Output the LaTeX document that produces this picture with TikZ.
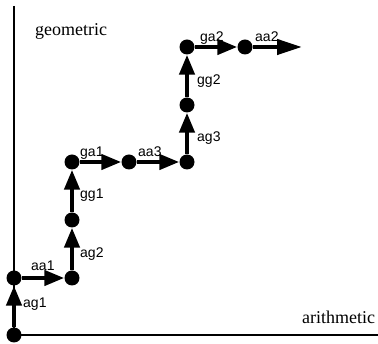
\documentclass[tikz,border=0pt]{standalone}
\usepackage{fontspec}
\setmainfont{Liberation Serif}
\newfontfamily\labfont{Liberation Sans}
\usetikzlibrary{arrows.meta}
\begin{document}
\begin{tikzpicture}[x=1pt,y=-1pt,
  dot/.style={circle,fill=black,inner sep=0pt,minimum size=15pt},
  arr/.style={line width=4.3pt,-{Triangle[length=20pt,width=15pt]}},
  lab/.style={anchor=base west,inner sep=0pt,font=\labfont\fontsize{14}{16}\selectfont},
  axlab/.style={anchor=base west,inner sep=0pt,font=\fontsize{18}{20}\selectfont},
  axis/.style={line width=1.5pt}]
\useasboundingbox (0,0) rectangle (378,344);
% axes
\coordinate (ytop) at (14,6);
\coordinate (xend) at (378,335);
\coordinate (orig) at (14,335);
\draw[axis] (ytop) -- (orig) -- (xend);
\node[axlab] (geo) at (35,36) {geometric};
\node[axlab] (ari) at (302,324) {arithmetic};
% dots
\node[dot] (p0) at (14,335) {};
\node[dot] (p1) at (14,278) {};
\node[dot] (p2) at (72,278) {};
\node[dot] (p3) at (72,220) {};
\node[dot] (p4) at (72,162) {};
\node[dot] (p5) at (129,162) {};
\node[dot] (p6) at (187,162) {};
\node[dot] (p7) at (187,105) {};
\node[dot] (p8) at (187,47) {};
\node[dot] (p9) at (245,47) {};
\coordinate (tip) at (302,47);
% arrows
\draw[arr] (p0) -- (p1);
\draw[arr] (p1) -- (p2);
\draw[arr] (p2) -- (p3);
\draw[arr] (p3) -- (p4);
\draw[arr] (p4) -- (p5);
\draw[arr] (p5) -- (p6);
\draw[arr] (p6) -- (p7);
\draw[arr] (p7) -- (p8);
\draw[arr] (p8) -- (p9);
\draw[line width=4.3pt,-{Triangle[length=25pt,width=15pt]}] (p9) -- (tip);
% labels
\node[lab] (lag1) at (23,308) {ag1};
\node[lab] (laa1) at (31,271) {aa1};
\node[lab] (lag2) at (80,258) {ag2};
\node[lab] (lgg1) at (80,199) {gg1};
\node[lab] (lga1) at (80,157) {ga1};
\node[lab] (laa3) at (138,157) {aa3};
\node[lab] (lag3) at (197,142) {ag3};
\node[lab] (lgg2) at (197,85) {gg2};
\node[lab] (lga2) at (200,42) {ga2};
\node[lab] (laa2) at (255,42) {aa2};
\end{tikzpicture}
\end{document}
